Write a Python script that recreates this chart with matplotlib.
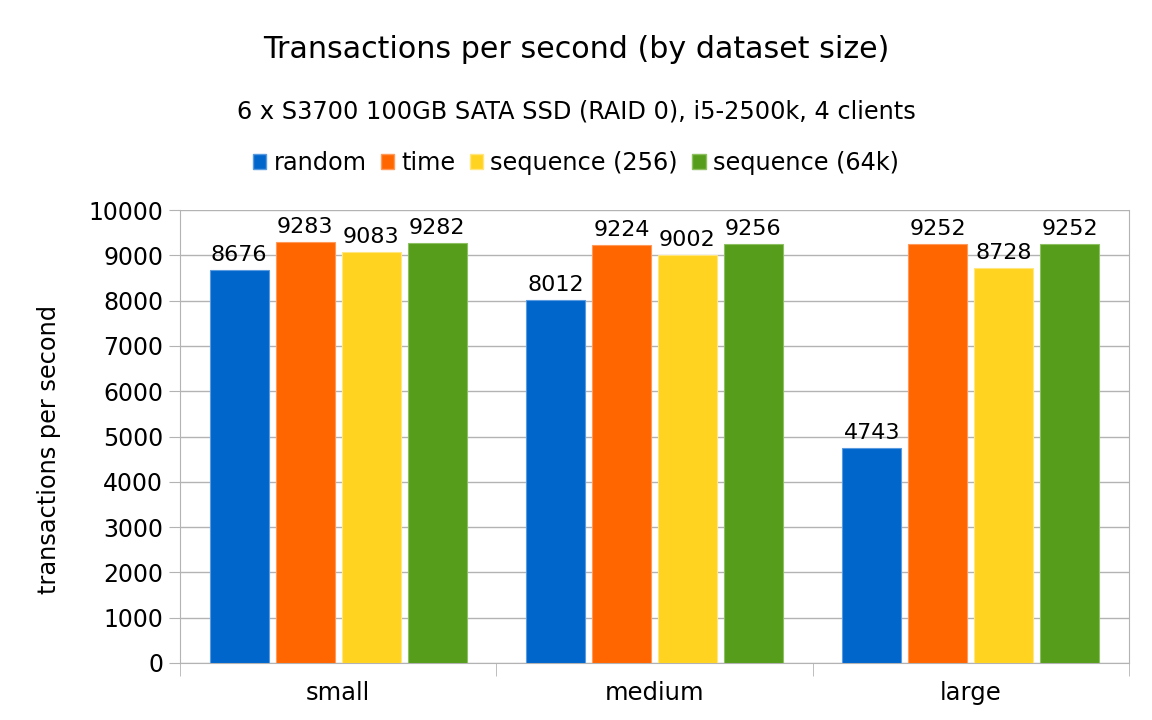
import matplotlib
matplotlib.use("Agg")
import matplotlib.pyplot as plt
import numpy as np
from matplotlib.patches import Patch

categories = ["small", "medium", "large"]
series_names = ["random", "time", "sequence (256)", "sequence (64k)"]
random_vals = [8676, 8012, 4743]
time_vals = [9283, 9224, 9252]
seq256_vals = [9083, 9002, 8728]
seq64k_vals = [9282, 9256, 9252]
yticks = list(range(0, 10001, 1000))

colors = ["#0066cc", "#ff6600", "#ffd320", "#579d1c"]
edges = ["#5a9be0", "#ff9a5a", "#ffe680", "#8cc060"]

plt.rcParams['font.family'] = ['DejaVu Sans']
fig = plt.figure(figsize=(11.52, 7.2), dpi=100)
ax = fig.add_axes([180/1152, 1-663/720, (1129-180)/1152, (663-210)/720])

x = np.arange(len(categories))
width = 0.187
step = 0.2085
allvals = [random_vals, time_vals, seq256_vals, seq64k_vals]
for i, vals in enumerate(allvals):
    pos = x + (i - 1.5) * step
    ax.bar(pos, vals, width=width, color=colors[i], edgecolor=edges[i],
           linewidth=0.8, zorder=3)
    for p, v in zip(pos, vals):
        ax.text(p, v + 110, str(v), ha='center', va='bottom', fontsize=16, color='#000000')

ax.set_xlim(-0.5, 2.5)
ax.set_ylim(0, 10000)
ax.set_yticks(yticks)
ax.set_yticklabels([str(t) for t in yticks], fontsize=17)
ax.yaxis.grid(True, color='#b3b3b3', linewidth=1, zorder=0)
ax.set_axisbelow(True)
ax.tick_params(axis='y', length=8, color='#b3b3b3', pad=4)
ax.set_xticks(x)
ax.set_xticklabels(categories, fontsize=17.5)
ax.tick_params(axis='x', length=0, pad=13)
ax.set_xticks([-0.5, 0.5, 1.5, 2.5], minor=True)
ax.tick_params(axis='x', which='minor', length=9, color='#b3b3b3')
for s in ax.spines.values():
    s.set_color('#b3b3b3')
ax.spines['top'].set_visible(False)

ax.set_ylabel("transactions per second", fontsize=17.3)
ax.yaxis.set_label_coords((61-180)/949, (663-450)/453)

fig.text(0.5, 1-49/720, "Transactions per second (by dataset size)", ha='center', va='center', fontsize=21.7)
fig.text(0.5, 1-111/720, "6 x S3700 100GB SATA SSD (RAID 0), i5-2500k, 4 clients", ha='center', va='center', fontsize=17.3)

handles = [Patch(facecolor=c, edgecolor=e, label=n) for c, e, n in zip(colors, edges, series_names)]
fig.legend(handles=handles, loc='center', bbox_to_anchor=(0.5, 1-163/720), ncol=4, frameon=False,
           fontsize=17.3, handlelength=0.55, handleheight=0.55, handletextpad=0.3, columnspacing=0.6)

fig.savefig("out.png", dpi=100)
